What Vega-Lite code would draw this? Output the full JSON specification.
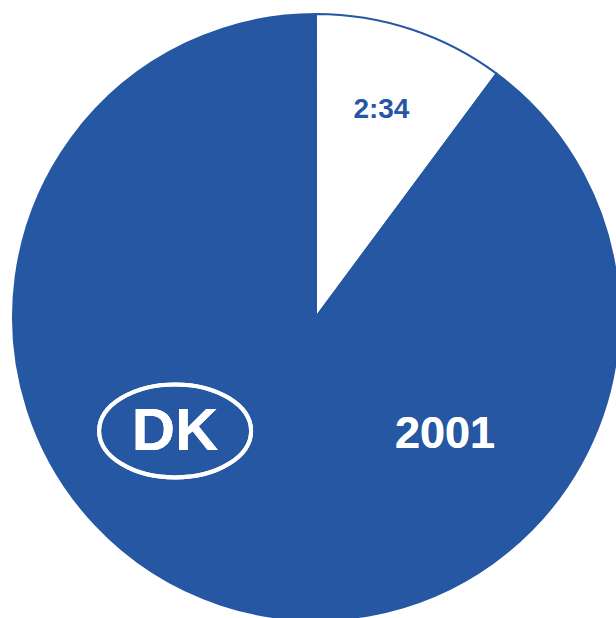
{
  "$schema": "https://vega.github.io/schema/vega-lite/v6.json",
  "width": 616,
  "height": 618,
  "padding": 0,
  "autosize": {"type": "none"},
  "background": "white",
  "config": {"view": {"stroke": null}},
  "data": {"values": [
    {"part": "2:34", "value": 0.1016, "idx": 1, "label": "2:34"},
    {"part": "rest", "value": 0.8984, "idx": 2, "label": ""}
  ]},
  "encoding": {
    "x": {"datum": 0, "type": "quantitative", "scale": {"domain": [-1.0429, 0.9901], "nice": false, "zero": false}, "axis": null},
    "y": {"datum": 0, "type": "quantitative", "scale": {"domain": [-0.9934, 1.0462], "nice": false, "zero": false}, "axis": null}
  },
  "layer": [
    {
      "mark": {"type": "arc", "outerRadius": 303, "stroke": "#2657a3", "strokeWidth": 2},
      "encoding": {
        "theta": {"field": "value", "type": "quantitative", "stack": true},
        "order": {"field": "idx", "type": "quantitative"},
        "color": {"field": "part", "type": "nominal", "scale": {"domain": ["2:34", "rest"], "range": ["#ffffff", "#2657a3"]}, "legend": null}
      }
    },
    {
      "mark": {"type": "text", "radius": 218, "font": "Liberation Sans", "fontWeight": "bold", "fontSize": 28, "color": "#2657a3", "baseline": "middle", "align": "center", "dx": -3},
      "encoding": {
        "theta": {"field": "value", "type": "quantitative", "stack": true},
        "order": {"field": "idx", "type": "quantitative"},
        "text": {"field": "label"}
      }
    },
    {
      "mark": {"type": "text", "font": "Liberation Sans", "fontWeight": "bold", "fontSize": 45, "color": "white", "baseline": "middle", "align": "center"},
      "encoding": {
        "x": {"datum": 0.4257, "type": "quantitative"},
        "y": {"datum": -0.386, "type": "quantitative"},
        "text": {"value": "2001"}
      }
    },
    {
      "mark": {"type": "text", "font": "Liberation Sans", "fontWeight": "bold", "fontSize": 60, "color": "white", "baseline": "middle", "align": "center"},
      "encoding": {
        "x": {"datum": -0.465, "type": "quantitative"},
        "y": {"datum": -0.378, "type": "quantitative"},
        "text": {"value": "DK"}
      }
    },
    {
      "mark": {"type": "point", "filled": false, "stroke": "white", "strokeWidth": 4, "opacity": 1, "size": 23104,
        "shape": "M-1,0C-1,-0.338,-0.5523,-0.612,0,-0.612C0.5523,-0.612,1,-0.338,1,0C1,0.338,0.5523,0.612,0,0.612C-0.5523,0.612,-1,0.338,-1,0Z"},
      "encoding": {
        "x": {"datum": -0.465, "type": "quantitative"},
        "y": {"datum": -0.376, "type": "quantitative"}
      }
    }
  ]
}
